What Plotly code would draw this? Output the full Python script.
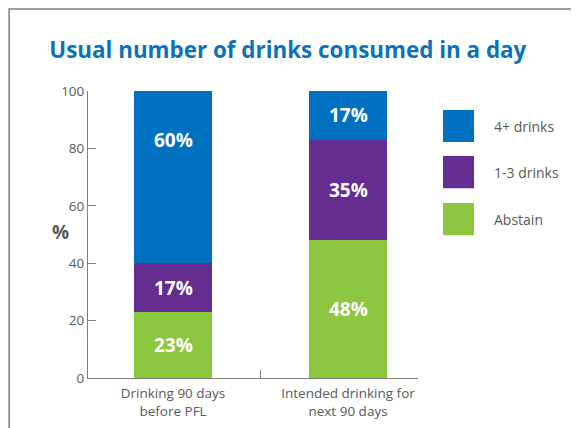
import plotly.graph_objects as go

categories = ["Drinking 90 days<br>before PFL", "Intended drinking for<br>next 90 days"]
series_names = ["Abstain", "1-3 drinks", "4+ drinks"]
series_values = [
    [23, 48],   # Abstain
    [17, 35],   # 1-3 drinks
    [60, 17],   # 4+ drinks
]
series_colors = ["#8DC63F", "#652D90", "#0070C0"]
y_ticks = [0, 20, 40, 60, 80, 100]
title_text = "Usual number of drinks consumed in a day"

fig = go.Figure()
for name, vals, col in zip(series_names, series_values, series_colors):
    fig.add_trace(go.Bar(x=categories, y=vals, name=name, marker_color=col,
                         marker_line_width=0, width=0.446, showlegend=False))

annotations = []
# data labels
for ci, cat in enumerate(categories):
    base = 0
    for si, vals in enumerate(series_values):
        v = vals[ci]
        ypos = base + v / 2 if v < 50 else base + v - 17
        annotations.append(dict(x=cat, y=ypos, xref="x", yref="y", text=f"<b>{v}%</b>",
                                showarrow=False, yanchor="middle",
                                font=dict(color="white", size=19, family="Open Sans")))
        base += v

# custom legend (top item = last series)
leg_x0, leg_x1 = 1.0758, 1.1697
leg_tops = [0.934, 0.7735, 0.6098]
sq_h = 0.112
shapes = []
for i, si in enumerate(reversed(range(len(series_names)))):
    top = leg_tops[i]
    shapes.append(dict(type="rect", xref="paper", yref="paper", x0=leg_x0, x1=leg_x1,
                       y0=top - sq_h, y1=top, fillcolor=series_colors[si], line_width=0))
    annotations.append(dict(x=1.224, y=top - sq_h / 2, xref="paper", yref="paper",
                            text=series_names[si], showarrow=False, xanchor="left", yanchor="middle",
                            font=dict(color="#595959", size=14, family="Open Sans")))

# frame
shapes.append(dict(type="rect", xref="paper", yref="paper", x0=-0.239, x1=1.7, y0=-0.3, y1=1.286,
                   line=dict(color="#7f7f7f", width=1.5), fillcolor="rgba(0,0,0,0)", layer="below"))

annotations.append(dict(x=-0.115, y=0.508, xref="paper", yref="paper", text="<b>%</b>", showarrow=False,
                        yanchor="middle", font=dict(color="#595959", size=19, family="Open Sans")))

fig.update_layout(
    barmode="stack",
    width=571, height=420,
    margin=dict(l=80, r=161, t=83, b=50),
    paper_bgcolor="white", plot_bgcolor="white",
    title=dict(text=f"<b>{title_text}</b>", x=0.49, xanchor="center", y=0.9, yanchor="middle",
               font=dict(color="#0B73B7", size=22.4, family="Open Sans")),
    annotations=annotations,
    shapes=shapes,
    xaxis=dict(range=[-0.486, 1.4], showline=True, linecolor="#7f7f7f", linewidth=1, ticks="inside",
               tickson="boundaries", ticklen=8, tickcolor="#7f7f7f", ticklabelstandoff=3,
               automargin=False,
               tickfont=dict(color="#595959", size=13.5, family="Open Sans"),
               showgrid=False, fixedrange=True),
    yaxis=dict(range=[0, 100], tickvals=y_ticks, showline=True, linecolor="#7f7f7f", linewidth=1,
               ticks="inside", ticklen=8, tickcolor="#7f7f7f", showgrid=False, zeroline=False,
               automargin=False,
               tickfont=dict(color="#595959", size=13.5, family="Open Sans")),
)

fig.write_html("out.html")
